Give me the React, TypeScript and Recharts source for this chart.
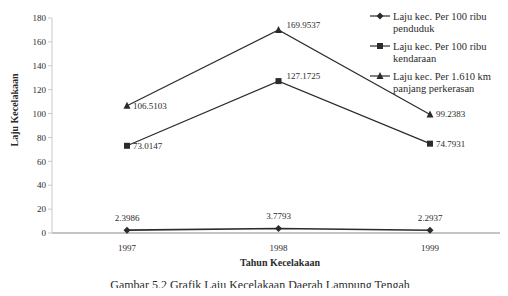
import { LineChart, Line, XAxis, YAxis, LabelList } from 'recharts'

// Tahun kecelakaan
const years = ['1997', '1998', '1999']

// Laju kecelakaan per 100 ribu penduduk
const perPenduduk = [2.3986, 3.7793, 2.2937]
// Laju kecelakaan per 100 ribu kendaraan
const perKendaraan = [73.0147, 127.1725, 74.7931]
// Laju kecelakaan per 1.610 km panjang perkerasan
const perPerkerasan = [106.5103, 169.9537, 99.2383]

const yTicks = [0, 20, 40, 60, 80, 100, 120, 140, 160, 180]

const INK = '#2b2b2b'
const FONT = '"Liberation Serif", "DejaVu Serif", serif'

const data = years.map((year, i) => ({
  year,
  penduduk: perPenduduk[i],
  kendaraan: perKendaraan[i],
  perkerasan: perPerkerasan[i],
}))

const DiamondDot = ({ cx, cy }: any) => (
  <path d={`M${cx},${cy - 3.5} L${cx + 3.5},${cy} L${cx},${cy + 3.5} L${cx - 3.5},${cy} Z`} fill={INK} />
)

const SquareDot = ({ cx, cy }: any) => (
  <rect x={cx - 3} y={cy - 3} width={6} height={6} fill={INK} />
)

const TriangleDot = ({ cx, cy }: any) => (
  <path d={`M${cx},${cy - 4} L${cx + 3.5},${cy + 3} L${cx - 3.5},${cy + 3} Z`} fill={INK} />
)

// labels above the point, centred (bottom series)
const AboveLabel = ({ x, y, value }: any) => (
  <text x={x} y={y - 9} textAnchor="middle" fontSize={9} fontFamily={FONT} fill={INK}>
    {value}
  </text>
)

// labels to the right of the point
const RightLabel = ({ x, y, value, index }: any) => (
  <text
    x={x + (index === 1 ? 8 : 6)}
    y={y + (index === 1 ? -2 : 3)}
    fontSize={9}
    fontFamily={FONT}
    fill={INK}
  >
    {value}
  </text>
)

const legendItems = [
  { lines: ['Laju kec. Per 100 ribu', 'penduduk'], Dot: DiamondDot },
  { lines: ['Laju kec. Per 100 ribu', 'kendaraan'], Dot: SquareDot },
  { lines: ['Laju kec. Per 1.610 km', 'panjang perkerasan'], Dot: TriangleDot },
]

const ChartLegend = () => (
  <svg width={140} height={95} style={{ position: 'absolute', left: 368, top: 7 }}>
    {legendItems.map((item, i) => {
      const y = 9 + i * 30
      return (
        <g key={`legend-${i}`}>
          <line x1={2} y1={y} x2={22} y2={y} stroke={INK} strokeWidth={1.2} />
          <item.Dot cx={12} cy={y} />
          <text x={25} y={y + 3.5} fontSize={10.5} fontFamily={FONT} fill={INK}>
            {item.lines[0]}
          </text>
          <text x={25} y={y + 16} fontSize={10.5} fontFamily={FONT} fill={INK}>
            {item.lines[1]}
          </text>
        </g>
      )
    })}
  </svg>
)

export default function App() {
  return (
    <div style={{ position: 'relative', width: 508, height: 296, margin: -8, background: '#fff' }}>
      <LineChart width={508} height={296} data={data} margin={{ top: 18, right: 3, bottom: 33, left: 0 }}>
        <XAxis
          dataKey="year"
          height={30}
          padding={{ left: 75, right: 75 }}
          stroke="#8a8a8a"
          tickLine={false}
          tick={{ fontSize: 9, fontFamily: FONT, fill: INK }}
          tickMargin={6}
        />
        <YAxis
          width={52}
          domain={[0, 180]}
          ticks={yTicks}
          interval={0}
          stroke="#c8c8c8"
          tickSize={4}
          tick={{ fontSize: 9, fontFamily: FONT, fill: INK }}
        />
        <Line
          dataKey="penduduk"
          stroke={INK}
          strokeWidth={1.6}
          dot={<DiamondDot />}
          isAnimationActive={false}
        >
          <LabelList dataKey="penduduk" content={<AboveLabel />} />
        </Line>
        <Line
          dataKey="kendaraan"
          stroke={INK}
          strokeWidth={1.2}
          dot={<SquareDot />}
          isAnimationActive={false}
        >
          <LabelList dataKey="kendaraan" content={<RightLabel />} />
        </Line>
        <Line
          dataKey="perkerasan"
          stroke={INK}
          strokeWidth={1.2}
          dot={<TriangleDot />}
          isAnimationActive={false}
        >
          <LabelList dataKey="perkerasan" content={<RightLabel />} />
        </Line>
      </LineChart>
      <ChartLegend />
      <div
        style={{
          position: 'absolute',
          left: 14,
          top: 110,
          transform: 'translate(-50%, -50%) rotate(-90deg)',
          fontFamily: FONT,
          fontSize: 10,
          fontWeight: 'bold',
          color: INK,
          whiteSpace: 'nowrap',
        }}
      >
        Laju Kecelakaan
      </div>
      <div
        style={{
          position: 'absolute',
          left: 0,
          width: 560,
          top: 257,
          textAlign: 'center',
          fontFamily: FONT,
          fontSize: 10,
          fontWeight: 'bold',
          color: INK,
        }}
      >
        Tahun Kecelakaan
      </div>
      <div
        style={{
          position: 'absolute',
          left: 0,
          width: 520,
          top: 278,
          textAlign: 'center',
          fontFamily: FONT,
          fontSize: 12,
          color: INK,
        }}
      >
        Gambar 5.2 Grafik Laju Kecelakaan Daerah Lampung Tengah
      </div>
    </div>
  )
}
